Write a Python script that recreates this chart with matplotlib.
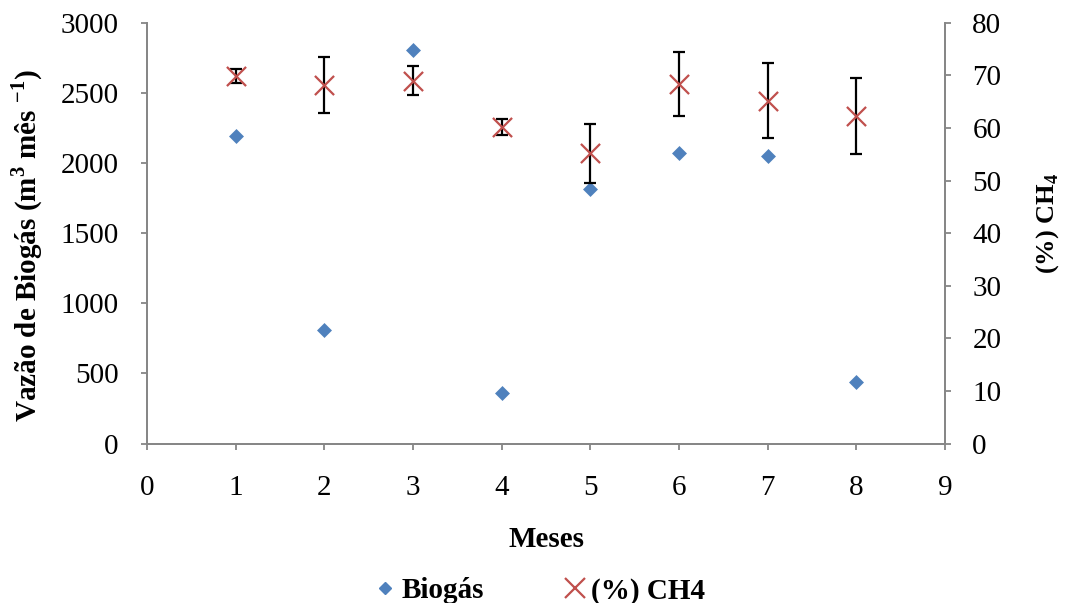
import matplotlib
matplotlib.use("Agg")
import matplotlib.pyplot as plt
from matplotlib.lines import Line2D

months = [1, 2, 3, 4, 5, 6, 7, 8]
biogas = [2190, 810, 2810, 362, 1818, 2072, 2050, 440]
ch4 = [69.9, 68.2, 69.0, 60.2, 55.2, 68.3, 65.2, 62.3]
ch4_err = [1.35, 5.35, 2.75, 1.5, 5.6, 6.1, 7.1, 7.25]

xticks = list(range(0, 10))
left_ticks = [0, 500, 1000, 1500, 2000, 2500, 3000]
right_ticks = [0, 10, 20, 30, 40, 50, 60, 70, 80]

plt.rcParams['font.family'] = ['Liberation Serif', 'DejaVu Serif']
plt.rcParams['mathtext.fontset'] = 'custom'
plt.rcParams['mathtext.rm'] = 'Liberation Serif'
plt.rcParams['mathtext.bf'] = 'Liberation Serif:bold'
FS = 21
spine_c = '#868686'

fig = plt.figure(figsize=(10.65, 6.03), dpi=100)
ax = fig.add_axes([0.138, 0.2645, 0.7495, 0.6975])
ax2 = ax.twinx()

ax.scatter(months, biogas, marker='D', s=58, color='#4F81BD', zorder=3, linewidths=0)
ax2.errorbar(months, ch4, yerr=ch4_err, fmt='none', ecolor='black', elinewidth=1.6,
             capsize=4.5, capthick=1.6, zorder=2)
ax2.scatter(months, ch4, marker='x', s=190, color='#C0504D', linewidths=1.6, zorder=3)

ax.set_xlim(0, 9)
ax.set_ylim(0, 3000)
ax2.set_ylim(0, 80)
ax.set_xticks(xticks)
ax.set_yticks(left_ticks)
ax2.set_yticks(right_ticks)

for a in (ax, ax2):
    for s in a.spines.values():
        s.set_color(spine_c)
        s.set_linewidth(1.3)
    a.spines['top'].set_visible(False)
    a.tick_params(colors=spine_c, labelcolor='black', labelsize=FS, length=4.5, width=1.3)
ax.tick_params(axis='x', pad=18)
ax.tick_params(axis='y', pad=16)
ax2.tick_params(axis='y', pad=15)

ax.set_xlabel('Meses', fontsize=FS, fontweight='bold')
ax.xaxis.set_label_coords(0.5, -0.196)
ax.set_ylabel('Vazão de Biogás (m$^{\\mathbf{3}}$ mês $^{\\mathbf{-1}}$)', fontsize=FS,
              fontweight='bold')
ax.yaxis.set_label_coords(-0.128, 0.47)
ax2.set_ylabel('(%) CH$_{\\mathbf{4}}$', fontsize=19, fontweight='bold')
ax2.yaxis.set_label_coords(1.111, 0.523)

handles = [Line2D([], [], marker='D', color='#4F81BD', linestyle='none', markersize=6.5),
           Line2D([], [], marker='x', color='#C0504D', linestyle='none', markersize=14,
                  markeredgewidth=1.6)]
fig.legend(handles, ['Biogás', '(%) CH4'], loc='center', bbox_to_anchor=(0.505, 0.02),
           ncol=2, frameon=False, prop={'size': FS, 'weight': 'bold'},
           handletextpad=0.08, columnspacing=2.6, handlelength=1.0)

fig.savefig('out.png', dpi=100)
